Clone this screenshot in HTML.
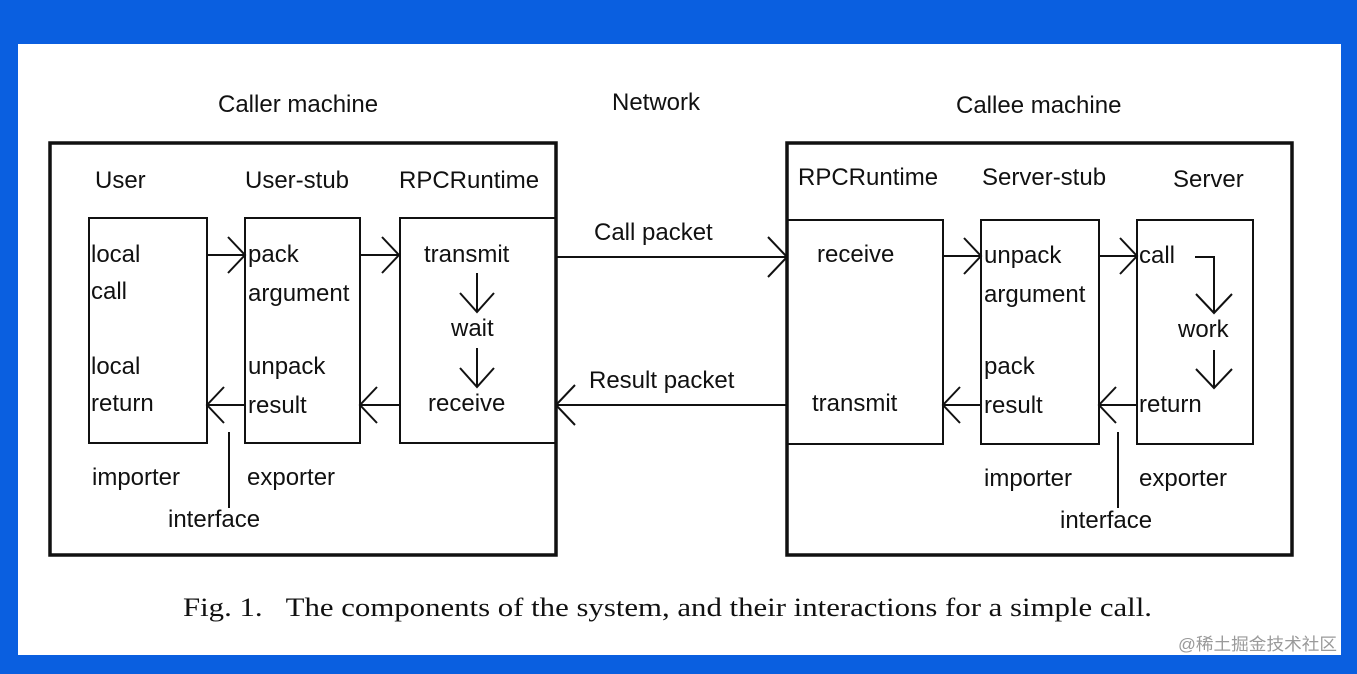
<!DOCTYPE html>
<html><head><meta charset="utf-8"><style>
html,body{margin:0;padding:0;background:#0a5fe0;}
svg{display:block}
text{font-family:"Liberation Sans",Arial,sans-serif;font-size:24px;fill:#111;}
.cap{font-family:"Liberation Serif",serif;font-size:26px;}
.wm{font-family:"Liberation Sans","Noto Sans CJK SC",sans-serif;font-size:17px;fill:#9a9a9a;}
</style></head><body>
<svg width="1357" height="674" viewBox="0 0 1357 674" xmlns="http://www.w3.org/2000/svg">
<rect x="0" y="0" width="1357" height="674" fill="#0a5fe0"/>
<rect x="18" y="44" width="1323" height="611" fill="#fff"/>
<g fill="none" stroke="#111" stroke-width="2">
<rect x="50" y="143" width="506" height="412" stroke-width="3.5"/>
<rect x="89" y="218" width="118" height="225"/>
<rect x="245" y="218" width="115" height="225"/>
<rect x="400" y="218" width="156" height="225"/>
<rect x="787" y="143" width="505" height="412" stroke-width="3.5"/>
<rect x="787" y="220" width="156" height="224"/>
<rect x="981" y="220" width="118" height="224"/>
<rect x="1137" y="220" width="116" height="224"/>
<path d="M556 257H787M768 237L787 257L768 277"/>
<path d="M787 405H556M575 385L556 405L575 425"/>
<path d="M207 255H245M228 237L245 255L228 273"/>
<path d="M360 255H399M382 237L399 255L382 273"/>
<path d="M399 405H360M377 387L360 405L377 423"/>
<path d="M245 405H207M224 387L207 405L224 423"/>
<path d="M229 432V508"/>
<path d="M477 273V312M460 293L477 312L494 293"/>
<path d="M477 348V387M460 368L477 387L494 368"/>
<path d="M943 256H981M964 238L981 256L964 274"/>
<path d="M1099 256H1137M1120 238L1137 256L1120 274"/>
<path d="M1137 405H1099M1116 387L1099 405L1116 423"/>
<path d="M981 405H943M960 387L943 405L960 423"/>
<path d="M1118 432V508"/>
<path d="M1195 257H1214V313M1196 294L1214 313L1232 294"/>
<path d="M1214 350V388M1196 369L1214 388L1232 369"/>
</g>
<text x="218" y="112">Caller machine</text>
<text x="612" y="110">Network</text>
<text x="956" y="113">Callee machine</text>
<text x="95" y="188">User</text>
<text x="245" y="188">User-stub</text>
<text x="399" y="188">RPCRuntime</text>
<text x="91" y="262">local</text>
<text x="91" y="299">call</text>
<text x="91" y="374">local</text>
<text x="91" y="411">return</text>
<text x="248" y="262">pack</text>
<text x="248" y="301">argument</text>
<text x="248" y="374">unpack</text>
<text x="248" y="413">result</text>
<text x="424" y="262">transmit</text>
<text x="451" y="336">wait</text>
<text x="428" y="411">receive</text>
<text x="92" y="485">importer</text>
<text x="247" y="485">exporter</text>
<text x="168" y="527">interface</text>
<text x="594" y="240">Call packet</text>
<text x="589" y="388">Result packet</text>
<text x="798" y="185">RPCRuntime</text>
<text x="982" y="185">Server-stub</text>
<text x="1173" y="187">Server</text>
<text x="817" y="262">receive</text>
<text x="812" y="411">transmit</text>
<text x="984" y="263">unpack</text>
<text x="984" y="302">argument</text>
<text x="984" y="374">pack</text>
<text x="984" y="413">result</text>
<text x="1139" y="263">call</text>
<text x="1178" y="337">work</text>
<text x="1139" y="412">return</text>
<text x="984" y="486">importer</text>
<text x="1139" y="486">exporter</text>
<text x="1060" y="528">interface</text>
<text class="cap" x="183" y="616" textLength="969" lengthAdjust="spacingAndGlyphs">Fig. 1.&#160;&#160;&#160;The components of the system, and their interactions for a simple call.</text>
<text class="wm" x="1178" y="650" textLength="159" lengthAdjust="spacingAndGlyphs">@稀土掘金技术社区</text>
</svg>
</body></html>
